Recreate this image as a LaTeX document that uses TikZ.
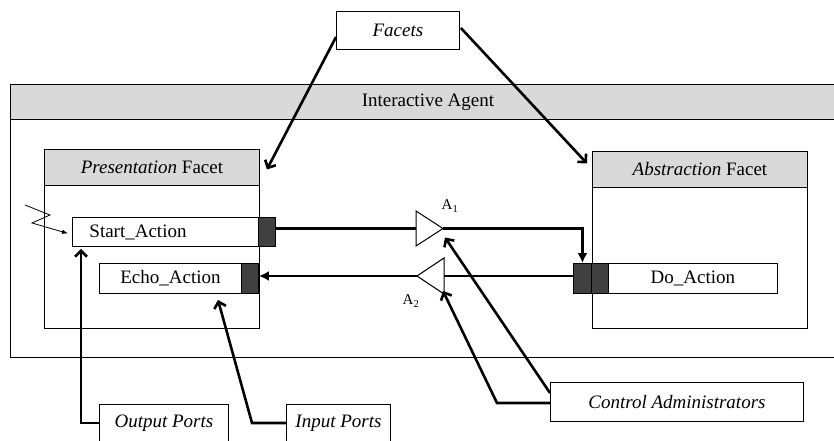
\documentclass[tikz,border=0pt]{standalone}
\usepackage{fontspec}
\setmainfont{Liberation Serif}
\usetikzlibrary{arrows.meta,calc}
\definecolor{headgray}{RGB}{217,217,217}
\definecolor{portgray}{RGB}{64,64,64}
\begin{document}
\begin{tikzpicture}[x=1pt,y=-1pt,
  font=\fontsize{19}{22}\selectfont,
  frame/.style={draw, line width=0.9pt, inner sep=0pt, anchor=north west},
  head/.style={frame, fill=headgray},
  actbox/.style={frame, fill=white},
  port/.style={frame, fill=portgray},
  callout/.style={frame, fill=white, font=\fontsize{19}{22}\selectfont\itshape},
  portlabel/.style={callout, inner ysep=9.5pt, text height=14pt, text depth=10pt},
  amp/.style={draw, line width=1pt, fill=white},
  wire/.style={line width=2.6pt},
  link/.style={wire, -{Latex[length=10pt,width=10pt]}},
  pointer/.style={wire, -{Straight Barb[length=6pt,width=12pt]}},
  sublabel/.style={font=\fontsize{15}{17}\selectfont, inner sep=0pt}]
\clip (0,0) rectangle (834,441);

% interactive agent container with its title band
\node[frame, minimum width=835pt, minimum height=273pt] (agent) at (10,84) {};
\node[head, minimum width=835pt, minimum height=35pt] (agenthead) at (10,84) {Interactive Agent};

% presentation facet
\node[frame, minimum width=215pt, minimum height=179pt] (pres) at (44,149) {};
\node[head, minimum width=215pt, minimum height=36pt] (preshead) at (44,149) {\textit{Presentation} Facet};
\node[actbox, minimum height=29pt, text width=152pt, inner xsep=17pt, align=left] (start) at (72,217) {Start\_Action};
\node[port, minimum width=17pt, minimum height=29pt] (sport) at (258,217) {};
\node[actbox, minimum width=142pt, minimum height=30pt] (echo) at (99,263) {Echo\_Action};
\node[port, minimum width=17pt, minimum height=30pt] (eport) at (241,263) {};

% abstraction facet
\node[frame, minimum width=215pt, minimum height=177pt] (abs) at (592,151) {};
\node[head, minimum width=215pt, minimum height=36pt] (abshead) at (592,151) {\textit{Abstraction} Facet};
\node[port, minimum width=18pt, minimum height=30pt] (doporta) at (573,263) {};
\node[port, minimum width=17pt, minimum height=30pt] (doportb) at (591,263) {};
\node[actbox, minimum width=169pt, minimum height=30pt] (do) at (608,263) {Do\_Action};

% control administrators (amplifier symbols)
\draw[amp] (416,211) -- (443,228.5) -- (416,246) -- cycle;
\coordinate (a1in) at (416,228.5);
\coordinate (a1out) at (443,228.5);
\draw[amp] (444,258) -- (417,276) -- (444,294) -- cycle;
\coordinate (a2in) at (444,276);
\coordinate (a2out) at (417,276);
\node[sublabel] (a1lbl) at (450,206) {A\textsubscript{1}};
\node[sublabel] (a2lbl) at (411,301) {A\textsubscript{2}};

% callout boxes
\node[callout, minimum width=123pt, minimum height=38pt] (facets) at (336,11) {Facets};
\node[callout, minimum width=253pt, minimum height=39pt] (ctrl) at (550,382) {Control Administrators};
\node[portlabel, minimum width=129pt] (outp) at (99,404) {Output Ports};
\node[portlabel, minimum width=104pt] (inp) at (286,404) {Input Ports};

% message flow between the facets
\draw[wire] (a1in -| sport.east) -- (a1in);
\draw[link] (a1out) -| (doporta.north);
\draw[wire] (a2in -| doporta.west) -- (a2in);
\draw[link] (a2out) -- (a2out -| eport.east);

% external event
\coordinate (spark) at (25,205);
\draw[line width=0.8pt, -{Latex[length=6pt,width=4.5pt]}] (spark) -- ++(25,10) -- ++(-18,8) -- ($(start.west)+(-4,1.5)$);

% callout pointers
\draw[pointer] ($(facets.north west)+(0,26)$) -- ($(preshead.east)+(7,2)$);
\draw[pointer] ($(facets.north east)+(1,17)$) -- ($(abshead.west)+(-5,-6)$);
\draw[pointer] ($(ctrl.north west)+(0,11)$) -- ($(a1out)+(2,9)$);
\draw[pointer] ($(ctrl.north west)+(0,21)$) -- ++(-53,0) -- ($(a2in)+(-1,15)$);
\draw[pointer] ($(outp.north west)+(0,19)$) -| ($(start.south west)+(9,2)$);
\draw[pointer] ($(inp.north west)+(0,19)$) -- ++(-34,0) -- ($(echo.south west)+(119,6)$);
\end{tikzpicture}
\end{document}
